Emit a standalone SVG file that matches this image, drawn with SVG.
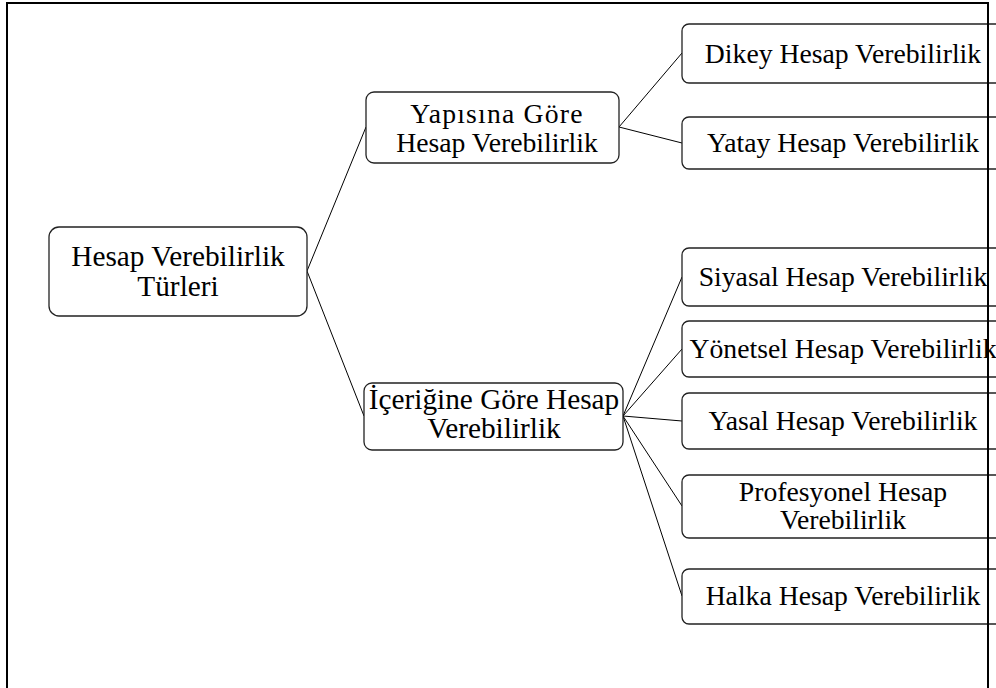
<svg xmlns="http://www.w3.org/2000/svg" width="996" height="688" viewBox="0 0 996 688">
<style>
.box{fill:#fff;stroke:#222;stroke-width:1.3}
.t{font-family:"Liberation Serif","Times New Roman",serif;font-size:27.7px;fill:#000;text-anchor:middle}
.tb{font-size:29.3px}
.c{stroke:#000;stroke-width:1;fill:none}
</style>
<rect x="0" y="0" width="996" height="688" fill="#fff"/>
<rect x="7" y="3" width="981" height="720" fill="none" stroke="#000" stroke-width="2"/>
<g id="connectors">
<line class="c" x1="307" y1="271" x2="366" y2="127"/>
<line class="c" x1="307" y1="271" x2="364" y2="416"/>
<line class="c" x1="619" y1="127" x2="682" y2="53"/>
<line class="c" x1="619" y1="127" x2="682" y2="143"/>
<line class="c" x1="623" y1="416" x2="682" y2="277"/>
<line class="c" x1="623" y1="416" x2="682" y2="349"/>
<line class="c" x1="623" y1="416" x2="682" y2="421"/>
<line class="c" x1="623" y1="416" x2="682" y2="506"/>
<line class="c" x1="623" y1="416" x2="682" y2="596"/>
</g>
<g id="root">
<rect class="box" x="49" y="227" width="258" height="89" rx="10"/>
<text class="t tb" x="178" y="266">Hesap Verebilirlik</text>
<text class="t tb" x="178" y="296">Türleri</text>
</g>
<g id="yapisina">
<rect class="box" x="366" y="92" width="253" height="71" rx="8"/>
<text class="t" x="497" y="123" letter-spacing="1.2">Yapısına Göre</text>
<text class="t" x="497" y="152">Hesap Verebilirlik</text>
</g>
<g id="icerigine">
<rect class="box" x="364" y="383" width="259" height="67" rx="8"/>
<text class="t tb" x="494" y="409">İçeriğine Göre Hesap</text>
<text class="t tb" x="494" y="438">Verebilirlik</text>
</g>
<g id="dikey">
<rect class="box" x="682" y="24" width="322" height="59" rx="7"/>
<text class="t" x="843" y="63">Dikey Hesap Verebilirlik</text>
</g>
<g id="yatay">
<rect class="box" x="682" y="117" width="322" height="52" rx="7"/>
<text class="t" x="843" y="152">Yatay Hesap Verebilirlik</text>
</g>
<g id="siyasal">
<rect class="box" x="682" y="248" width="322" height="58" rx="7"/>
<text class="t" x="843" y="286">Siyasal Hesap Verebilirlik</text>
</g>
<g id="yonetsel">
<rect class="box" x="682" y="321" width="322" height="56" rx="7"/>
<text class="t" x="843" y="358">Yönetsel Hesap Verebilirlik</text>
</g>
<g id="yasal">
<rect class="box" x="682" y="393" width="322" height="56" rx="7"/>
<text class="t" x="843" y="430">Yasal Hesap Verebilirlik</text>
</g>
<g id="profesyonel">
<rect class="box" x="682" y="475" width="322" height="63" rx="7"/>
<text class="t" x="843" y="501">Profesyonel Hesap</text>
<text class="t" x="843" y="529">Verebilirlik</text>
</g>
<g id="halka">
<rect class="box" x="682" y="569" width="322" height="55" rx="7"/>
<text class="t" x="843" y="605">Halka Hesap Verebilirlik</text>
</g>
<line x1="988" y1="3" x2="988" y2="688" stroke="#000" stroke-width="2"/>
</svg>
